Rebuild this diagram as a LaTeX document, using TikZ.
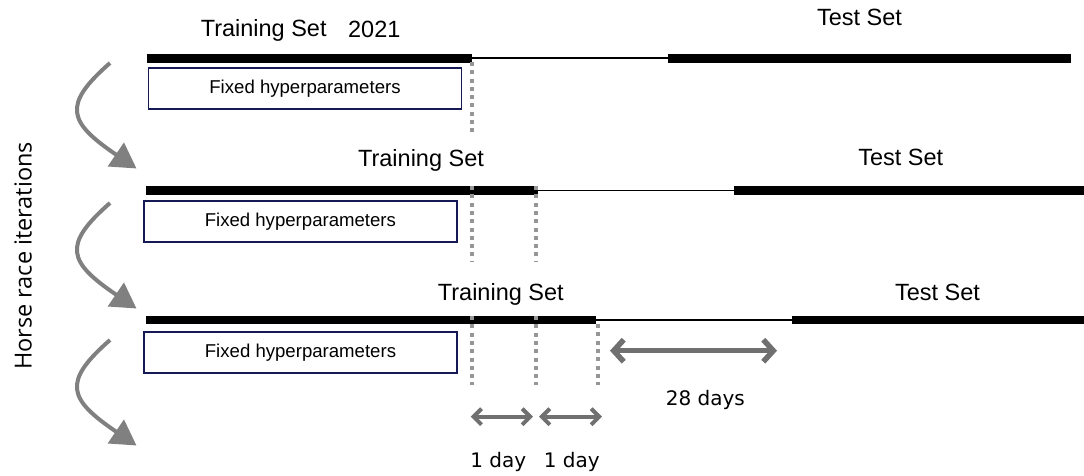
\documentclass[tikz,border=0pt]{standalone}
\usepackage{fontspec}
\setmainfont{Liberation Sans}
\newfontfamily\daysfont{DejaVu Sans}
\newfontfamily\axisfont{Open Sans}
\usetikzlibrary{arrows.meta}
\definecolor{boxblue}{RGB}{22,26,84}
\definecolor{loopgray}{RGB}{128,128,128}
\definecolor{spangray}{RGB}{112,112,112}
\definecolor{dotgray}{RGB}{150,150,150}

\begin{document}
\begin{tikzpicture}[x=1pt,y=-1pt,
  setbar/.style={line width=8.5pt,line cap=butt},
  gapline/.style={line width=1.8pt},
  hyperbox/.style={draw=boxblue,line width=1.6pt,minimum width=313pt,minimum height=41pt,
    inner sep=0pt,font=\fontsize{18.6}{22}\selectfont},
  setlabel/.style={anchor=base,inner sep=0pt,font=\fontsize{23.5}{28}\selectfont},
  daylabel/.style={inner sep=0pt,font=\daysfont\fontsize{20}{24}\selectfont},
  cutline/.style={draw=dotgray,line width=3.8pt,dash pattern=on 4pt off 4.3pt},
  loop/.style={draw=loopgray,line width=4pt,-{Triangle[length=25pt,width=28pt]}},
  span/.style={draw=spangray,line width=5.5pt,{Straight Barb[length=10pt,width=22pt]}-{Straight Barb[length=10pt,width=22pt]}},
  dayspan/.style={draw=spangray,line width=4pt,{Straight Barb[length=8pt,width=16pt]}-{Straight Barb[length=8pt,width=16pt]}}]
\useasboundingbox (0,0) rectangle (1084,476);

% vertical axis label
\node[anchor=base,rotate=90,inner sep=0pt,font=\axisfont\fontsize{23.5}{28}\selectfont]
  (axis) at (31.7,256) {Horse race iterations};

% ---- iteration 1 ----
\coordinate (a1) at (146.7,58.3);
\coordinate (b1) at (471.7,58.3);
\coordinate (c1) at (668,58.3);
\coordinate (d1) at (1071,58.3);
\draw[gapline] (b1) -- (c1);
\draw[setbar] (a1) -- (b1);
\draw[setbar] (c1) -- (d1);
\node[setlabel] (train1) at (263.7,36.7) {Training Set};
\node[setlabel] (year1) at (374.3,37.7) {2021};
\node[setlabel] (test1) at (859.5,26) {Test Set};
\node[hyperbox] (hp1) at (305,88.8) {Fixed hyperparameters};
\coordinate (u1t) at (472.3,62);
\coordinate (u1b) at (472.3,132);
\draw[cutline] (u1t) -- (u1b);

% ---- iteration 2 ----
\coordinate (a2) at (146,190.5);
\coordinate (b2) at (538,190.5);
\coordinate (c2) at (734,190.5);
\coordinate (d2) at (1084,190.5);
\draw[gapline] (b2) -- (c2);
\draw[setbar] (a2) -- (b2);
\draw[setbar] (c2) -- (d2);
\node[setlabel] (train2) at (421,166.7) {Training Set};
\node[setlabel] (test2) at (900.8,165) {Test Set};
\node[hyperbox] (hp2) at (300.4,221.2) {Fixed hyperparameters};
\coordinate (u2t) at (471.8,186);
\coordinate (u2b) at (471.8,262);
\coordinate (v2t) at (536,186);
\coordinate (v2b) at (536,262);
\draw[cutline] (u2t) -- (u2b);
\draw[cutline] (v2t) -- (v2b);

% ---- iteration 3 ----
\coordinate (a3) at (146,320);
\coordinate (b3) at (595.7,320);
\coordinate (c3) at (791.7,320);
\coordinate (d3) at (1084,320);
\draw[gapline] (b3) -- (c3);
\draw[setbar] (a3) -- (b3);
\draw[setbar] (c3) -- (d3);
\node[setlabel] (train3) at (500.8,300.7) {Training Set};
\node[setlabel] (test3) at (937.5,300.7) {Test Set};
\node[hyperbox] (hp3) at (300.5,352.2) {Fixed hyperparameters};
\coordinate (u3t) at (472.3,316);
\coordinate (u3b) at (472.3,385);
\coordinate (v3t) at (536,316);
\coordinate (v3b) at (536,385);
\coordinate (w3t) at (598.3,324);
\coordinate (w3b) at (598.3,385);
\draw[cutline] (u3t) -- (u3b);
\draw[cutline] (v3t) -- (v3b);
\draw[cutline] (w3t) -- (w3b);

% gaps between training and test sets
\coordinate (g28l) at (610,350.7);
\coordinate (g28r) at (777,350.7);
\draw[span] (g28l) -- (g28r);
\node[daylabel] (d28) at (705.3,399.5) {28 days};
\coordinate (s1l) at (470.7,416.7);
\coordinate (s1r) at (533,416.7);
\coordinate (s2l) at (539,416.7);
\coordinate (s2r) at (602,416.7);
\draw[dayspan] (s1l) -- (s1r);
\draw[dayspan] (s2l) -- (s2r);
\node[daylabel] (day1) at (498.3,462) {1 day};
\node[daylabel] (day2) at (571.7,462) {1 day};

% curved arrows between iterations
\foreach \k/\dy in {1/0,2/140,3/277}{
  \coordinate (ls\k) at (110,63+\dy);
  \coordinate (le\k) at (136.5,168.5+\dy);
  \draw[loop] (ls\k) .. controls (62,105+\dy) and (68,122+\dy) .. (le\k);
}
\end{tikzpicture}
\end{document}
